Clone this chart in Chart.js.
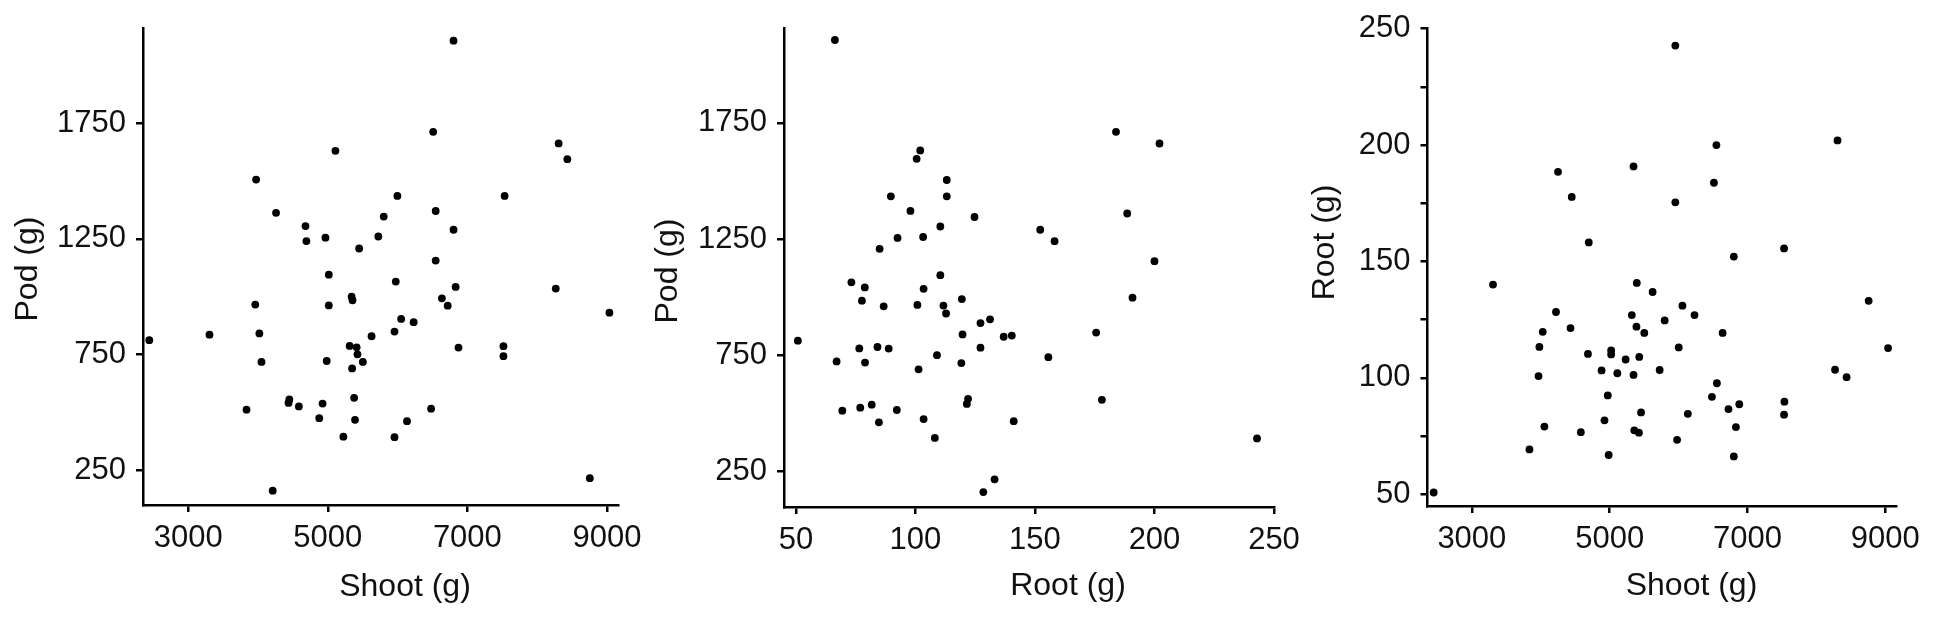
<!DOCTYPE html>
<html>
<head>
<meta charset="utf-8">
<title>Shoot, root and pod weight</title>
<script src="https://cdn.jsdelivr.net/npm/chart.js@4.4.1/dist/chart.umd.min.js"></script>
<style>
  html, body { margin: 0; padding: 0; background: #fff; }
  #wrap { position: relative; width: 1947px; height: 617px; }
  #wrap canvas { position: absolute; left: 0; top: 0; }
</style>
</head>
<body>
<div id="wrap">
  <canvas id="shoot-pod" width="1947" height="617"></canvas>
  <canvas id="root-pod" width="1947" height="617"></canvas>
  <canvas id="shoot-root" width="1947" height="617"></canvas>
</div>
<script>
'use strict';

// panel 1: pod vs shoot
const shootA = [6802, 6510, 8308, 8433, 5109, 3972, 5997, 7534, 4258, 6546, 5801, 4680, 6802, 4693, 4966,
  5724, 5449, 6546, 5014, 5974, 6832, 8267, 5341, 5354, 6635, 3960, 5014, 6718, 9036, 2441,
  3304, 4019, 4049, 6051, 6230, 5956, 5627, 5313, 5413, 5425, 4984, 5502, 5348, 6873, 7517,
  7517, 4448, 4437, 4585, 4925, 5377, 3835, 6480, 4877, 5390, 6135, 5223, 5956, 4210, 8755];
const podA = [2106, 1712, 1662, 1594, 1630, 1506, 1435, 1435, 1362, 1370, 1346, 1305, 1289, 1240, 1255,
  1260, 1208, 1156, 1095, 1065, 1042, 1035, 1000, 984, 993, 966, 962, 961, 931, 812,
  836, 841, 718, 904, 890, 849, 829, 787, 781, 751, 722, 718, 690, 780, 786,
  743, 556, 541, 526, 538, 563, 512, 516, 475, 468, 462, 395, 393, 162, 216];

// panel 2: pod vs root
const rootB = [66.3, 183.9, 202.1, 102.0, 100.5, 113.1, 113.1, 89.7, 97.9, 188.6, 124.7, 110.4, 152.2, 92.5, 103.2,
  158.2, 85.0, 200.0, 110.4, 73.2, 78.8, 103.4, 190.8, 119.4, 77.6, 86.7, 100.8, 111.7, 112.8, 127.2,
  131.2, 119.7, 136.9, 140.3, 175.6, 50.8, 76.5, 84.1, 88.8, 127.2, 67.0, 78.9, 109.0, 119.2, 155.6,
  101.3, 122.0, 121.5, 178.0, 69.4, 76.9, 81.7, 92.2, 84.7, 103.4, 141.1, 108.1, 242.9, 133.1, 128.4];
const podB = [2106, 1711, 1661, 1631, 1595, 1504, 1434, 1434, 1371, 1360, 1345, 1304, 1290, 1255, 1259,
  1241, 1208, 1155, 1095, 1064, 1042, 1036, 998, 992, 985, 961, 967, 964, 930, 889,
  905, 840, 830, 835, 848, 813, 780, 786, 779, 783, 724, 719, 751, 717, 742,
  690, 563, 541, 559, 512, 525, 538, 515, 462, 476, 467, 395, 393, 217, 162];

// panel 3: root vs shoot
const shootC = [5954, 8308, 6550, 5347, 4251, 6514, 4450, 5954, 4697, 7532, 6803, 3307, 5394, 5624, 8760,
  6057, 4221, 6232, 5322, 5799, 4432, 5389, 5503, 4029, 6640, 3980, 6003, 9042, 4685, 5022,
  5022, 5232, 5430, 4883, 5112, 5347, 5726, 3968, 8272, 8440, 6557, 4973, 6485, 7537, 6882,
  6725, 7532, 5456, 6135, 4925, 4053, 6833, 4582, 5358, 5425, 5979, 3836, 4986, 6803, 2446];
const rootC = [242.7, 202.0, 200.0, 190.8, 188.5, 183.8, 177.7, 175.4, 158.2, 155.6, 152.1, 140.1, 140.8, 136.9, 133.1,
  131.0, 128.3, 127.0, 127.0, 124.7, 121.4, 122.0, 119.3, 119.8, 119.3, 113.3, 113.1, 112.8, 110.3, 111.8,
  110.1, 107.9, 109.0, 103.2, 102.0, 101.3, 103.4, 100.8, 103.5, 100.3, 97.7, 92.5, 91.9, 89.8, 88.7,
  86.6, 84.2, 85.2, 84.6, 81.8, 79.1, 78.9, 76.7, 77.5, 76.5, 73.4, 69.3, 66.9, 66.3, 50.8];

// tick labels
const shootTicks = [3000, 5000, 7000, 9000];
const podTicks = [250, 750, 1250, 1750];
const rootTicks = [50, 100, 150, 200, 250];
const rootMinorTicks = [75, 125, 175, 225];

const FONT = "'Liberation Sans', Arial, Helvetica, sans-serif";
const INK = '#111';

// draws the axis titles where the reference puts them (not always centred)
const axisTitles = {
  id: 'axisTitles',
  afterDraw(chart, args, o) {
    const ctx = chart.ctx;
    ctx.save();
    ctx.fillStyle = INK;
    ctx.font = '32px ' + FONT;
    ctx.textAlign = 'center';
    ctx.textBaseline = 'alphabetic';
    ctx.fillText(o.x.text, o.x.cx, o.x.base);
    ctx.translate(o.y.base, o.y.cy);
    ctx.rotate(-Math.PI / 2);
    ctx.fillText(o.y.text, 0, 0);
    ctx.restore();
  }
};

function axis(min, max, tickValues, labelValues, size, pad) {
  return {
    type: 'linear',
    min: min,
    max: max,
    afterBuildTicks: (s) => { s.ticks = tickValues.map(v => ({ value: v })); },
    afterFit: (s) => { if (s.isHorizontal()) s.height = size; else s.width = size; },
    border: { display: true, color: '#000', width: 2.5 },
    grid: { display: true, drawOnChartArea: false, drawTicks: true, tickLength: 7, color: '#000', lineWidth: 2.5 },
    ticks: {
      autoSkip: false,
      maxRotation: 0,
      minRotation: 0,
      padding: pad,
      color: INK,
      font: { family: FONT, size: 31 },
      callback: (v) => labelValues.includes(v) ? String(v) : ''
    }
  };
}

function scatterPanel(id, xs, ys, cfg) {
  const points = xs.map((x, i) => ({ x: x, y: ys[i] }));
  return new Chart(document.getElementById(id), {
    type: 'scatter',
    data: {
      datasets: [{
        data: points,
        pointRadius: 3.9,
        pointHoverRadius: 3.9,
        pointBorderWidth: 0,
        backgroundColor: '#000',
        borderColor: '#000'
      }]
    },
    options: {
      responsive: false,
      animation: false,
      events: [],
      layout: { padding: cfg.padding },
      scales: {
        x: axis(cfg.xMin, cfg.xMax, cfg.xTicks, cfg.xLabels, cfg.xHeight, 8),
        y: axis(cfg.yMin, cfg.yMax, cfg.yTicks, cfg.yLabels, 143, 10)
      },
      plugins: {
        legend: { display: false },
        tooltip: { enabled: false },
        axisTitles: cfg.titles
      }
    },
    plugins: [axisTitles]
  });
}

scatterPanel('shoot-pod', shootA, podA, {
  padding: { left: 0, right: 1329, top: 21, bottom: 0 },
  xMin: 2351, xMax: 9159, xTicks: shootTicks, xLabels: shootTicks, xHeight: 112,
  yMin: 100, yMax: 2158, yTicks: podTicks, yLabels: podTicks,
  titles: { x: { text: 'Shoot (g)', cx: 405, base: 596 }, y: { text: 'Pod (g)', cy: 269, base: 37 } }
});

scatterPanel('root-pod', rootB, podB, {
  padding: { left: 641, right: 673, top: 23, bottom: 0 },
  xMin: 45, xMax: 250, xTicks: rootTicks, xLabels: rootTicks, xHeight: 110,
  yMin: 98, yMax: 2155, yTicks: podTicks, yLabels: podTicks,
  titles: { x: { text: 'Root (g)', cx: 1068, base: 595 }, y: { text: 'Pod (g)', cy: 271, base: 677 } }
});

scatterPanel('shoot-root', shootC, rootC, {
  padding: { left: 1284.5, right: 51, top: 21, bottom: 0 },
  xMin: 2356, xMax: 9157, xTicks: shootTicks, xLabels: shootTicks, xHeight: 111,
  yMin: 45, yMax: 250, yTicks: rootTicks.concat(rootMinorTicks).sort((a, b) => a - b), yLabels: rootTicks,
  titles: { x: { text: 'Shoot (g)', cx: 1691.5, base: 595 }, y: { text: 'Root (g)', cy: 242.5, base: 1334 } }
});
</script>
</body>
</html>
